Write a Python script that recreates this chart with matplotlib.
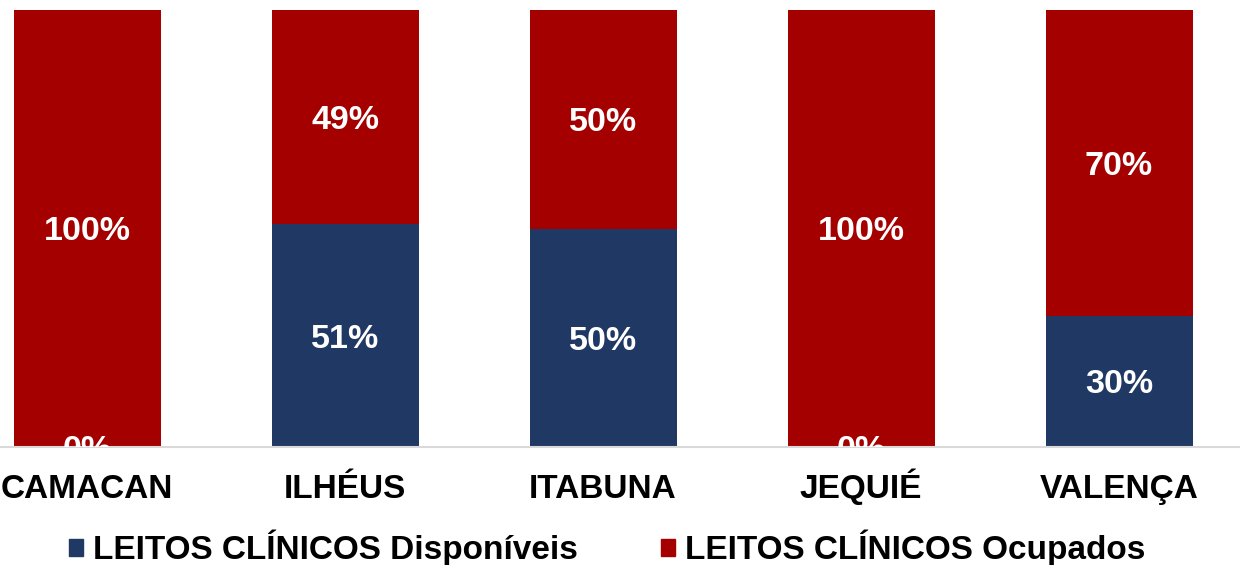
import matplotlib
matplotlib.use("Agg")
import matplotlib.pyplot as plt
from matplotlib.patches import Patch

categories = ["CAMACAN", "ILHÉUS", "ITABUNA", "JEQUIÉ", "VALENÇA"]
disponiveis = [0, 51, 50, 0, 30]
ocupados = [100, 49, 50, 100, 70]
series_names = ["LEITOS CLÍNICOS Disponíveis", "LEITOS CLÍNICOS Ocupados"]

BLUE = "#203864"
RED = "#A50000"
FONT = ["Liberation Sans", "DejaVu Sans"]

fig = plt.figure(figsize=(12.4, 5.65), dpi=100)
ax = fig.add_axes([0, 118 / 565, 1, 437 / 565])

x = list(range(len(categories)))
tot = [d + o for d, o in zip(disponiveis, ocupados)]
d_frac = [d / t for d, t in zip(disponiveis, tot)]
o_frac = [o / t for o, t in zip(ocupados, tot)]
w = 147 / 258
ax.bar(x, d_frac, width=w, color=BLUE, zorder=2)
ax.bar(x, o_frac, width=w, bottom=d_frac, color=RED, zorder=2)

for i in x:
    t1 = ax.text(i, d_frac[i] / 2, f"{disponiveis[i]}%", ha="center", va="center_baseline",
                 color="white", fontsize=24.5, fontweight="bold", family=FONT, zorder=3)
    t1.set_clip_on(True)
    ax.text(i, d_frac[i] + o_frac[i] / 2, f"{ocupados[i]}%", ha="center", va="center_baseline",
            color="white", fontsize=24.5, fontweight="bold", family=FONT, zorder=3)

ax.set_xlim(-87 / 258, (1240 - 87) / 258)
ax.set_ylim(0, 1)
ax.set_xticks(x)
ax.set_xticklabels(categories, fontsize=24, fontweight="bold", family=FONT)
for lab in ax.get_xticklabels():
    lab.set_va("baseline")
ax.tick_params(axis="x", length=0, pad=37)
ax.set_yticks([])
for s in ["top", "left", "right"]:
    ax.spines[s].set_visible(False)
ax.spines["bottom"].set_color("#d9d9d9")
ax.spines["bottom"].set_linewidth(1.5)

handles = [Patch(color=BLUE), Patch(color=RED)]
fig.legend(handles, series_names, loc="center", bbox_to_anchor=(607 / 1240, 1 - 548 / 565),
           ncol=2, frameon=False, handlelength=0.42, handleheight=0.42, handletextpad=0.3,
           columnspacing=2.5, prop={"family": FONT, "size": 24, "weight": "bold"})

fig.savefig("out.png", dpi=100)
